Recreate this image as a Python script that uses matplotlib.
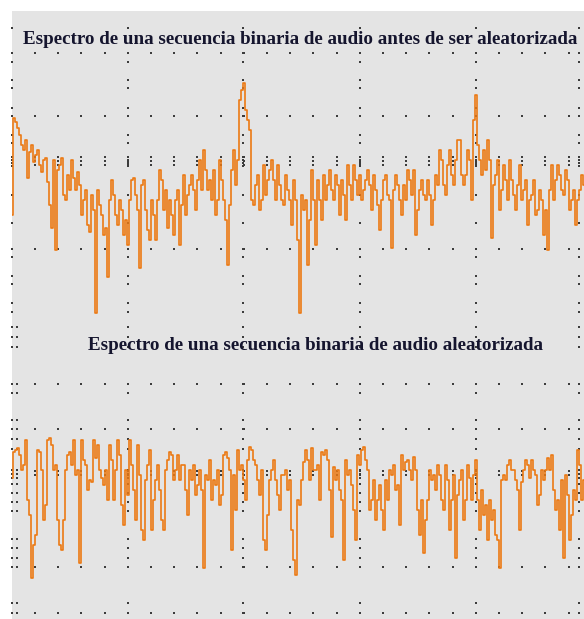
import numpy as np
import matplotlib
matplotlib.use('Agg')
import matplotlib.pyplot as plt
from matplotlib.patches import Rectangle

# spectrum levels (dB), one value per frequency bin
espectro_original = [
    -51.0, -26.8, -27.8, -29.3, -31.0, -33.5, -34.8, -32.3, -41.8, -35.3, -33.5, -37.8,
    -36.0, -34.8, -38.5, -40.3, -37.3, -36.8, -42.8, -48.5, -54.3, -37.3, -59.8, -39.8,
    -38.5, -36.8, -46.0, -47.3, -41.0, -44.8, -37.3, -41.8, -44.8, -40.3, -43.5, -51.0,
    -47.3, -44.8, -53.5, -55.3, -46.0, -49.8, -75.5, -44.8, -48.5, -51.0, -56.0, -54.3,
    -66.5, -47.3, -42.3, -46.0, -51.0, -53.5, -47.3, -49.8, -56.0, -52.3, -58.5, -47.3,
    -42.3, -41.8, -46.0, -49.8, -64.3, -43.5, -42.3, -49.8, -54.8, -57.3, -47.3, -51.0,
    -57.3, -47.3, -39.8, -42.3, -49.8, -44.8, -54.3, -47.3, -51.0, -56.0, -47.3, -44.8,
    -58.5, -48.5, -41.0, -51.0, -46.0, -43.5, -41.0, -44.8, -49.8, -42.3, -37.3, -44.8,
    -34.8, -39.8, -44.8, -42.3, -47.3, -39.8, -51.0, -47.3, -37.3, -42.3, -47.3, -52.3,
    -63.5, -48.5, -39.8, -34.8, -43.5, -37.3, -22.3, -19.8, -18.0, -24.8, -27.3, -29.8,
    -47.3, -48.5, -43.5, -41.0, -49.8, -47.3, -38.5, -46.0, -42.3, -39.8, -37.3, -42.3,
    -47.3, -38.5, -43.5, -47.3, -48.5, -41.0, -44.8, -47.3, -53.5, -42.3, -47.3, -57.3,
    -75.5, -46.0, -49.8, -47.3, -63.5, -52.3, -39.8, -47.3, -58.5, -42.3, -47.3, -52.3,
    -41.0, -47.3, -43.5, -39.8, -44.8, -47.3, -41.0, -43.5, -51.0, -42.3, -46.0, -52.3,
    -38.5, -43.5, -47.3, -38.5, -42.3, -46.0, -41.0, -47.3, -44.8, -42.3, -39.8, -43.5,
    -49.8, -41.0, -44.8, -48.5, -54.8, -47.3, -42.3, -41.0, -46.0, -47.3, -59.3, -44.8,
    -41.0, -43.5, -47.3, -51.0, -43.5, -47.3, -39.8, -42.3, -46.0, -39.8, -56.0, -49.8,
    -44.8, -42.3, -46.0, -47.3, -42.3, -46.0, -53.5, -47.3, -41.0, -43.5, -34.8, -37.3,
    -43.5, -46.0, -38.5, -34.8, -41.0, -43.5, -37.3, -32.3, -32.3, -41.0, -43.5, -41.0,
    -34.8, -37.3, -47.3, -27.3, -21.0, -33.5, -37.3, -41.0, -34.8, -39.8, -32.3, -37.3,
    -56.8, -43.5, -41.0, -37.3, -49.8, -44.8, -38.5, -42.3, -47.3, -37.3, -42.3, -46.0,
    -49.8, -43.5, -38.5, -47.3, -44.8, -42.3, -53.5, -47.3, -46.0, -42.3, -51.0, -49.8,
    -44.8, -47.3, -56.0, -49.8, -59.8, -44.8, -38.5, -47.3, -42.3, -38.5, -41.0, -44.8,
    -46.0, -39.8, -42.3, -49.8, -47.3, -44.8, -53.5, -47.3, -44.8, -41.0, -43.5,
]

espectro_aleatorizado = [
    -36.8, -30.3, -29.8, -29.3, -31.0, -34.8, -33.5, -27.3, -42.3, -46.0, -61.8, -53.5,
    -51.0, -29.8, -30.3, -34.8, -47.3, -43.5, -27.3, -26.8, -28.5, -34.8, -33.5, -47.3,
    -53.5, -54.8, -47.3, -34.8, -31.0, -30.3, -33.5, -27.3, -36.0, -34.8, -58.0, -27.3,
    -32.3, -33.5, -39.8, -37.3, -37.8, -27.3, -31.8, -28.5, -34.8, -36.8, -38.5, -34.8,
    -42.3, -28.5, -32.3, -42.3, -34.8, -27.3, -31.0, -43.5, -48.5, -34.8, -41.0, -27.3,
    -33.5, -39.8, -47.3, -28.5, -36.0, -49.8, -52.3, -37.3, -33.5, -29.8, -49.8, -42.3,
    -37.3, -33.5, -39.8, -47.3, -49.8, -34.8, -32.3, -30.3, -31.0, -37.3, -34.8, -31.0,
    -37.3, -33.5, -33.5, -39.8, -46.0, -34.8, -37.3, -33.5, -41.0, -38.5, -34.8, -39.8,
    -59.3, -36.0, -37.3, -32.3, -42.3, -37.3, -38.5, -34.8, -43.5, -41.0, -31.0, -30.3,
    -31.8, -34.8, -54.8, -36.0, -44.8, -29.8, -34.8, -33.5, -37.3, -42.3, -32.3, -29.0,
    -29.8, -32.3, -33.5, -37.3, -41.0, -34.8, -52.3, -54.8, -46.0, -37.3, -34.8, -32.3,
    -37.3, -41.0, -44.8, -36.0, -36.0, -34.8, -39.8, -37.3, -49.8, -57.3, -61.0, -42.3,
    -43.5, -37.3, -32.8, -29.8, -32.3, -37.3, -29.3, -34.8, -34.8, -33.5, -42.3, -30.3,
    -31.0, -29.8, -32.3, -39.8, -51.5, -34.0, -37.3, -34.8, -39.8, -42.3, -57.3, -32.3,
    -36.0, -34.8, -38.5, -44.8, -52.3, -31.0, -33.5, -29.8, -29.0, -32.3, -34.8, -44.8,
    -42.3, -37.3, -47.3, -42.3, -38.5, -44.8, -49.8, -37.3, -42.3, -34.8, -36.0, -33.5,
    -39.8, -38.5, -48.5, -31.0, -34.8, -32.8, -32.3, -34.8, -37.3, -31.5, -34.8, -44.8,
    -51.0, -42.3, -55.5, -47.3, -42.3, -34.8, -37.3, -36.0, -39.8, -33.5, -36.0, -42.3,
    -44.8, -33.5, -37.3, -49.8, -42.3, -36.0, -56.8, -41.0, -37.3, -34.8, -47.3, -42.3,
    -33.5, -36.8, -42.3, -36.0, -32.3, -42.3, -49.8, -39.8, -46.0, -43.5, -52.3, -42.3,
    -47.3, -44.8, -51.0, -52.3, -59.3, -37.3, -36.0, -37.3, -33.5, -32.3, -34.8, -34.8,
    -37.3, -39.8, -49.8, -37.8, -34.8, -32.3, -33.5, -36.8, -32.3, -34.8, -36.0, -43.5,
    -41.0, -34.8, -37.3, -34.8, -31.8, -34.8, -31.0, -39.8, -44.8, -42.3, -49.8, -37.3,
    -56.8, -36.0, -41.0, -52.3, -46.0, -39.8, -42.3, -29.8, -33.5, -42.3, -37.3,
]

titulo_1 = "Espectro de una secuencia binaria de audio antes de ser aleatorizada"
titulo_2 = "Espectro de una secuencia binaria de audio aleatorizada"

W, H = 584, 619
naranja = '#ec7a14'
gris = '#e4e4e4'
punto = '#3c3c3c'

fig = plt.figure(figsize=(W / 100, H / 100), dpi=100)
fig.patch.set_facecolor('white')

# background axes in pixel units, for the screen and its dotted grid
bg = fig.add_axes([0, 0, 1, 1])
bg.set_xlim(0, W)
bg.set_ylim(H, 0)
bg.axis('off')
bg.add_patch(Rectangle((12, 11), W - 12, H - 11, facecolor=gris, edgecolor='none'))

col_x = [12, 128, 243, 360, 476, 579]
row_dots_x = np.arange(35, W, 23.2)

# top panel grid
top_rows = [53, 116, 249]
top_col_y = [28, 53, 62, 80, 88, 108, 116, 135, 143, 157, 160, 163, 166,
             195, 223, 249, 257, 276, 284, 303, 312]
# bottom panel grid
bot_rows = [384, 429, 567, 613]
bot_col_y = [327, 337, 347, 384, 393, 420, 429, 439, 449, 470, 474, 478,
             484, 493, 502, 511, 539, 548, 558, 567, 603, 613]

xs, ys = [], []
for r in top_rows + bot_rows:
    xs += list(row_dots_x)
    ys += [r] * len(row_dots_x)
for tick_y in (157, 161, 165):
    xs += list(row_dots_x)
    ys += [tick_y] * len(row_dots_x)
for tick_y in (471, 475):
    xs += list(row_dots_x)
    ys += [tick_y] * len(row_dots_x)
for cx in col_x:
    for cy in top_col_y + bot_col_y:
        xs.append(cx)
        ys.append(cy)
for cy in bot_col_y:
    xs.append(17)
    ys.append(cy)
bg.scatter(xs, ys, s=2.2, marker='s', color=punto, linewidths=0, zorder=2)

bg.text(300, 40, titulo_1, ha='center', va='center', family='Liberation Serif',
        fontweight='bold', fontsize=13.7, color='#15152e', zorder=5)
bg.text(315, 345, titulo_2, ha='center', va='center', family='Liberation Serif',
        fontweight='bold', fontsize=13.7, color='#15152e', zorder=5)

# top trace
ax1 = fig.add_axes([12 / W, 1 - 331 / H, (W - 12) / W, 320 / H])
ax1.patch.set_alpha(0)
n1 = len(espectro_original)
ax1.step(np.arange(n1), espectro_original, where='mid', color=naranja, lw=1.2)
ax1.set_xlim(0, n1 - 1)
ax1.set_ylim(-80, 0)
ax1.axis('off')

# bottom trace
ax2 = fig.add_axes([12 / W, 1 - 611 / H, (W - 12) / W, 280 / H])
ax2.patch.set_alpha(0)
n2 = len(espectro_aleatorizado)
ax2.step(np.arange(n2), espectro_aleatorizado, where='mid', color=naranja, lw=1.2)
ax2.set_xlim(0, n2 - 1)
ax2.set_ylim(-70, 0)
ax2.axis('off')

fig.savefig('out.png', dpi=100)
plt.close(fig)
